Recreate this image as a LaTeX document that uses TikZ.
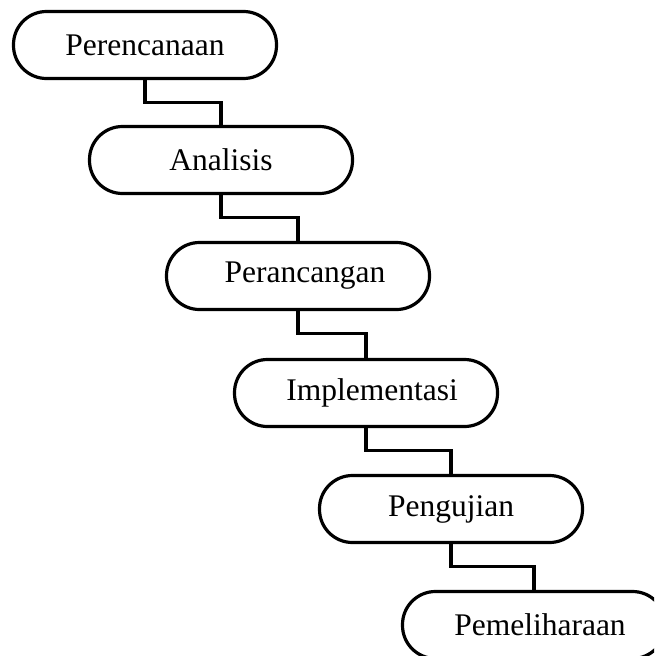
\documentclass[tikz,border=0pt]{standalone}
\usepackage{fontspec}
\setmainfont{Liberation Serif}
\newfontfamily\phasefont{Liberation Serif}
\usepackage{tikz}
\usetikzlibrary{arrows}

\begin{document}
\begin{tikzpicture}[x=1pt,y=-1pt,-,line width=3.2pt,
  phase node/.style={draw,rectangle,rounded corners=33pt,minimum width=263pt,
    minimum height=67pt,inner sep=0pt,font=\phasefont\fontsize{31.5}{36}\selectfont},
  down step/.style={to path={-- ++(0,22) -| (\tikztotarget)}}]
  \useasboundingbox (0,0) rectangle (654,656);
  \clip (0,0) rectangle (654,656);
  \node[phase node] (1) at (145,45) {Perencanaan};
  \node[phase node] (2) at (221,160) {Analisis};
  \node[phase node] (3) at (298,276) {\hspace{14pt}Perancangan};
  \node[phase node] (4) at (366,393) {\hspace{12pt}Implementasi};
  \node[phase node] (5) at (451,509) {Pengujian};
  \node[phase node] (6) at (534,625) {\hspace{12pt}Pemeliharaan};

  \path[down step]
    (1.south) edge (2.north)
    (2.south) edge (3.north)
    (3.south) edge (4.north)
    (4.south) edge (5.north)
    (5.south) edge (6.north);
\end{tikzpicture}
\end{document}
